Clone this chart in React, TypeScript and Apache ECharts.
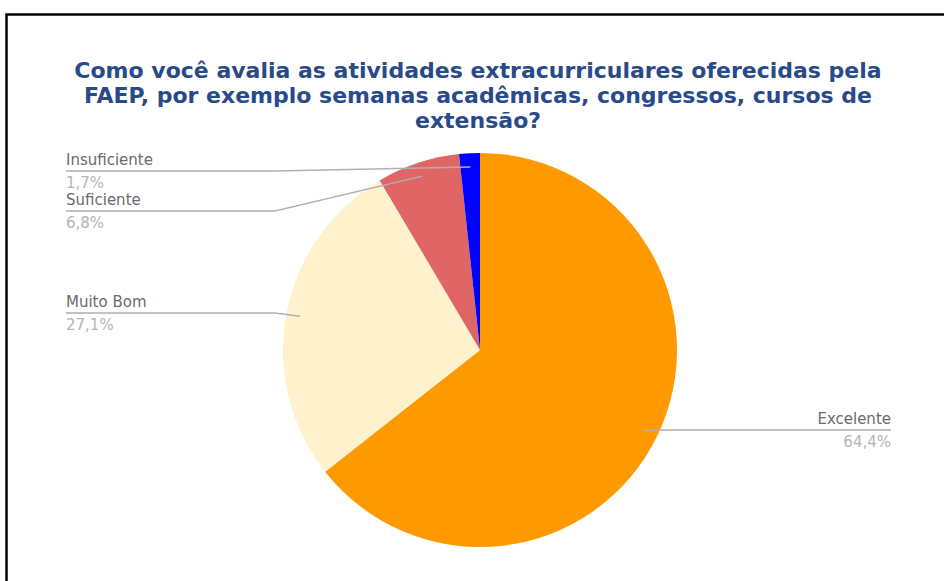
import { useEffect, useRef } from 'react';
import * as echarts from 'echarts';

const categories = ['Excelente', 'Muito Bom', 'Suficiente', 'Insuficiente'];
const percentages = [64.4, 27.1, 6.8, 1.7];
const sliceColors = ['#FF9900', '#FFF2CC', '#E06666', '#0000FF'];
const titleLines = [
  'Como você avalia as atividades extracurriculares oferecidas pela',
  'FAEP, por exemplo semanas acadêmicas, congressos, cursos de',
  'extensão?',
];

// layout constants
const CENTER = [480, 350];
const RADIUS = 197;
const labelLineY = [430, 313, 211, 171];
const LEFT_LABEL_X = 66;
const RIGHT_LABEL_X = 891;
const ELBOW_X_LEFT = 275;
const DOT_RATIO = 0.93;

const fmt = (v: number) => v.toFixed(1).replace('.', ',') + '%';

export default function App() {
  const ref = useRef<HTMLDivElement>(null);
  useEffect(() => {
    document.body.style.margin = '0';
    if (!ref.current) return;
    const chart = echarts.init(ref.current, undefined, { renderer: 'svg' });
    const total = percentages.reduce((a, b) => a + b, 0);
    const cum: number[] = [];
    let acc = 0;
    percentages.forEach((v) => {
      cum.push(acc);
      acc += v;
    });
    const labelLayout = (params: any) => {
      const i = params.dataIndex;
      const m = (cum[i] + percentages[i] / 2) / total;
      const th = m * Math.PI * 2;
      const dot = [
        CENTER[0] + DOT_RATIO * RADIUS * Math.sin(th),
        CENTER[1] - DOT_RATIO * RADIUS * Math.cos(th),
      ];
      const isLeft = dot[0] < CENTER[0];
      const y = labelLineY[i];
      const elbow = isLeft ? [Math.min(ELBOW_X_LEFT, dot[0]), y] : [dot[0], y];
      const end = [isLeft ? LEFT_LABEL_X : RIGHT_LABEL_X, y];
      return {
        x: end[0],
        y,
        align: isLeft ? 'left' : 'right',
        verticalAlign: 'middle',
        labelLinePoints: [dot, elbow, end],
      };
    };
    const pieData = categories.map((c, i) => ({
      name: c,
      value: percentages[i],
      itemStyle: { color: sliceColors[i] },
    }));
    chart.setOption({
      animation: false,
      graphic: [
        {
          type: 'rect',
          silent: true,
          shape: { x: 6.5, y: 14.5, width: 2000, height: 2000 },
          style: { fill: 'none', stroke: '#000', lineWidth: 2.5 },
        },
        {
          type: 'text',
          x: 478,
          y: 95,
          style: {
            text: titleLines.join('\n'),
            align: 'center',
            verticalAlign: 'middle',
            fontFamily: 'DejaVu Sans',
            fontWeight: 'bold',
            fontSize: 22,
            lineHeight: 25,
            fill: '#294A88',
          },
        },
      ],
      series: [
        {
          type: 'pie',
          center: CENTER,
          radius: RADIUS,
          startAngle: 90,
          clockwise: true,
          z: 1,
          avoidLabelOverlap: false,
          data: pieData,
          label: { show: false },
          labelLine: { show: false },
          emphasis: { disabled: true },
        },
        {
          type: 'pie',
          center: CENTER,
          radius: RADIUS,
          startAngle: 90,
          clockwise: true,
          z: 3,
          silent: true,
          avoidLabelOverlap: false,
          data: pieData.map((d) => ({ ...d, itemStyle: { color: 'rgba(0,0,0,0)' } })),
          label: {
            show: true,
            position: 'outside',
            formatter: (p: any) => `{n|${p.name}}\n{v|${fmt(p.value)}}`,
            rich: {
              n: { fontFamily: 'DejaVu Sans', fontSize: 15, color: '#6b6b6b', lineHeight: 23 },
              v: { fontFamily: 'DejaVu Sans', fontSize: 15, color: '#b5b5b5', lineHeight: 23 },
            },
          },
          labelLine: {
            show: true,
            lineStyle: { color: '#b0b0b0', width: 1.5 },
          },
          labelLayout,
          emphasis: { disabled: true },
        },
      ],
    });
    return () => chart.dispose();
  }, []);
  return <div ref={ref} style={{ width: 944, height: 581 }} />;
}
